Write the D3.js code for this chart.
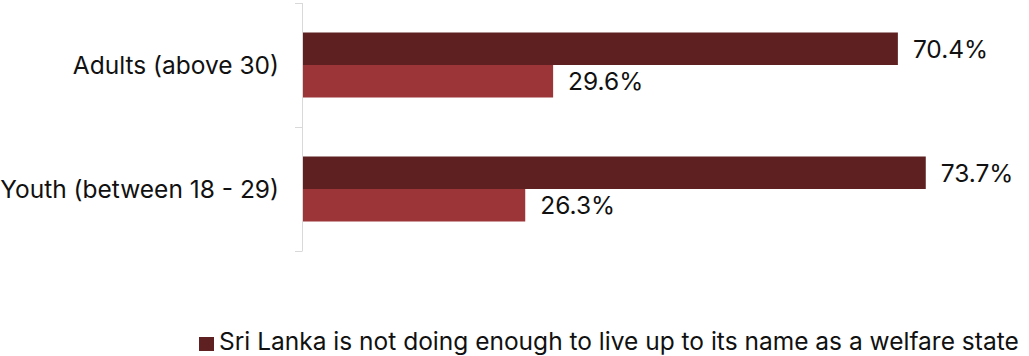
<!DOCTYPE html>
<meta charset="utf-8">
<head>
<style>
body { margin: 0; background: #fff; }
svg text { font-family: Inter, "Open Sans", sans-serif; fill: #111; }
.axis path, .axis line { stroke: #d9d9d9; }
</style>
</head>
<body>
<svg width="1029" height="356"></svg>
<script src="https://d3js.org/d3.v7.min.js"></script>
<script>

var categories = ["Adults (above 30)", "Youth (between 18 - 29)"];
var seriesNames = ["Sri Lanka is not doing enough to live up to its name as a welfare state",
                   "Sri Lanka is doing enough"];
var notEnough = [70.4, 73.7];
var enough = [29.6, 26.3];
var colors = ["#5f2021", "#9b3537"];

var svg = d3.select("svg");

var values = [notEnough, enough];

var x = d3.scaleLinear().domain([0, 100]).range([303, 1148]);

var y0 = d3.scaleBand().domain(categories).range([3, 251]);

var y1 = d3.scaleBand().domain(d3.range(seriesNames.length))
    .range([y0.bandwidth() / 2 - 32.5, y0.bandwidth() / 2 + 32.5]);

// axis line with boundary ticks
var ax = svg.append("g").attr("class", "axis");
ax.append("line")
    .attr("x1", 302.5).attr("x2", 302.5)
    .attr("y1", y0.range()[0]).attr("y2", y0.range()[1]);
var bounds = categories.map(function(c) { return y0(c); }).concat([y0.range()[1]]);
ax.selectAll(".tk").data(bounds).enter().append("line")
    .attr("x1", 295).attr("x2", 302.5)
    .attr("y1", function(d) { return d + 0.5; })
    .attr("y2", function(d) { return d + 0.5; });

// category labels
svg.selectAll(".cat").data(categories).enter().append("text")
    .attr("class", "cat")
    .attr("x", 279)
    .attr("y", function(d) { return y0(d) + y0.bandwidth() / 2; })
    .attr("dy", "0.36em")
    .attr("text-anchor", "end")
    .style("font-size", "24.5px")
    .text(function(d) { return d; });

var groups = svg.selectAll(".grp").data(categories).enter().append("g")
    .attr("class", "grp")
    .attr("transform", function(d) { return "translate(0," + y0(d) + ")"; });

groups.each(function(c, ci) {
  var g = d3.select(this);
  var rows = values.map(function(v, si) { return {s: si, v: v[ci]}; });
  g.selectAll("rect").data(rows).enter().append("rect")
      .attr("x", x(0))
      .attr("y", function(d) { return y1(d.s); })
      .attr("width", function(d) { return x(d.v) - x(0); })
      .attr("height", y1.bandwidth())
      .attr("fill", function(d) { return colors[d.s]; });
  g.selectAll("text").data(rows).enter().append("text")
      .attr("x", function(d) { return x(d.v) + 15; })
      .attr("y", function(d) { return y1(d.s) + y1.bandwidth() / 2; })
      .attr("dy", "0.36em")
      .style("font-size", "24.5px")
      .text(function(d) { return d.v.toFixed(1) + "%"; });
});

// legend (only first entry is visible)
var lg = svg.append("g").attr("transform", "translate(199,337)");
lg.append("rect").attr("width", 15).attr("height", 14).attr("fill", colors[0]);
lg.append("text").attr("x", 20).attr("y", 13)
    .style("font-size", "24.5px")
    .text(seriesNames[0]);

</script>
</body>
</html>
